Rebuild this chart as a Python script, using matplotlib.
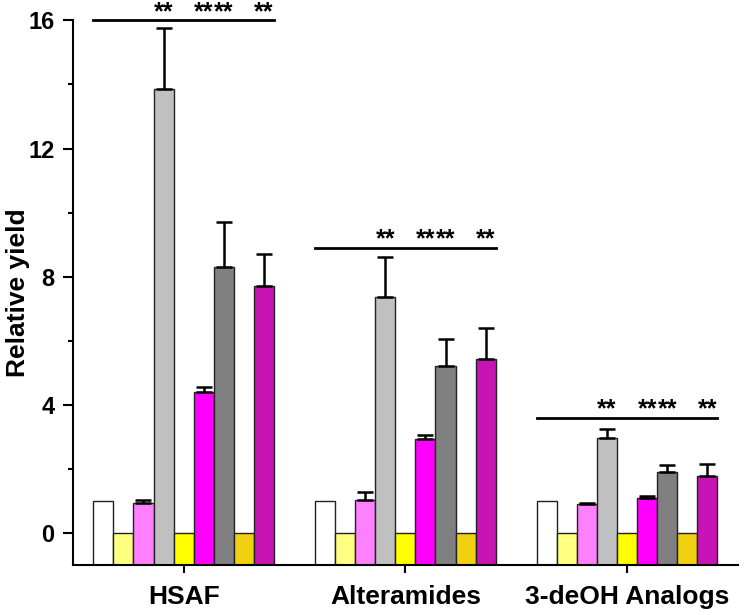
import numpy as np
import matplotlib.pyplot as plt

plt.rcParams['font.family'] = ['Liberation Sans', 'DejaVu Sans']
plt.rcParams['font.weight'] = 'bold'

groups = ['HSAF', 'Alteramides', '3-deOH Analogs']
bar_colors = ['#FFFFFF', '#FFFF80', '#FF80FF', '#C0C0C0', '#FFFF00',
              '#FF00FF', '#808080', '#F0D010', '#C814B4']

# relative yield per group (9 strains each) and upper error
values = [
    [1.0, 0.0, 0.93, 13.85, 0.0, 4.4, 8.3, 0.0, 7.7],
    [1.0, 0.0, 1.02, 7.38, 0.0, 2.94, 5.22, 0.0, 5.42],
    [1.0, 0.0, 0.92, 2.96, 0.0, 1.1, 1.9, 0.0, 1.77],
]
errors = [
    [0.0, 0.0, 0.1, 1.9, 0.0, 0.17, 1.4, 0.0, 1.02],
    [0.0, 0.0, 0.26, 1.24, 0.0, 0.12, 0.84, 0.0, 0.98],
    [0.0, 0.0, 0.03, 0.3, 0.0, 0.07, 0.24, 0.0, 0.38],
]
sig_line = [16.0, 8.9, 3.6]
star_bars = [3, 5, 6, 8]

fig = plt.figure(figsize=(7.5, 6.15), dpi=100)
ax = fig.add_axes([0.097, 0.081, 0.887, 0.886])

width = 0.0905
base = -1
for g in range(len(groups)):
    offs = (np.arange(9) - 4) * width
    xs = g + offs
    vals = np.array(values[g])
    errs = np.array(errors[g])
    ax.bar(xs, vals - base, bottom=base, width=width, color=bar_colors,
           edgecolor='#222222', linewidth=1.0, zorder=2)
    mask = errs > 0
    ax.errorbar(xs[mask], vals[mask], yerr=[np.zeros(mask.sum()), errs[mask]],
                fmt='none', ecolor='black', elinewidth=1.8, capsize=6,
                capthick=1.8, zorder=3)
    # significance line and stars
    ax.plot([xs[0] - width / 2, xs[-1] + width / 2], [sig_line[g]] * 2,
            color='black', lw=2, clip_on=False, zorder=3)
    for b in star_bars:
        ax.text(xs[b], sig_line[g] + 0.04, '**', ha='center', va='baseline',
                fontsize=18, fontweight='bold')

ax.set_xlim(-0.5, 2.5)
ax.set_ylim(-1, 16)
ax.set_xticks(range(len(groups)))
ax.set_xticklabels(groups, fontsize=19, fontweight='bold')
ax.set_yticks([0, 4, 8, 12, 16])
ax.set_yticks([2, 6, 10, 14], minor=True)
ax.tick_params(axis='y', labelsize=17, width=1.5, length=7, pad=6)
ax.tick_params(axis='y', which='minor', width=1.5, length=3.5)
ax.tick_params(axis='x', width=1.5, length=6, pad=8)
for lab in ax.get_yticklabels():
    lab.set_fontweight('bold')
ax.set_ylabel('Relative yield', fontsize=19, fontweight='bold')
ax.yaxis.set_label_coords(-0.064, 0.5)

for s in ['top', 'right']:
    ax.spines[s].set_visible(False)
for s in ['left', 'bottom']:
    ax.spines[s].set_linewidth(1.5)

fig.savefig('out.png', dpi=100)
